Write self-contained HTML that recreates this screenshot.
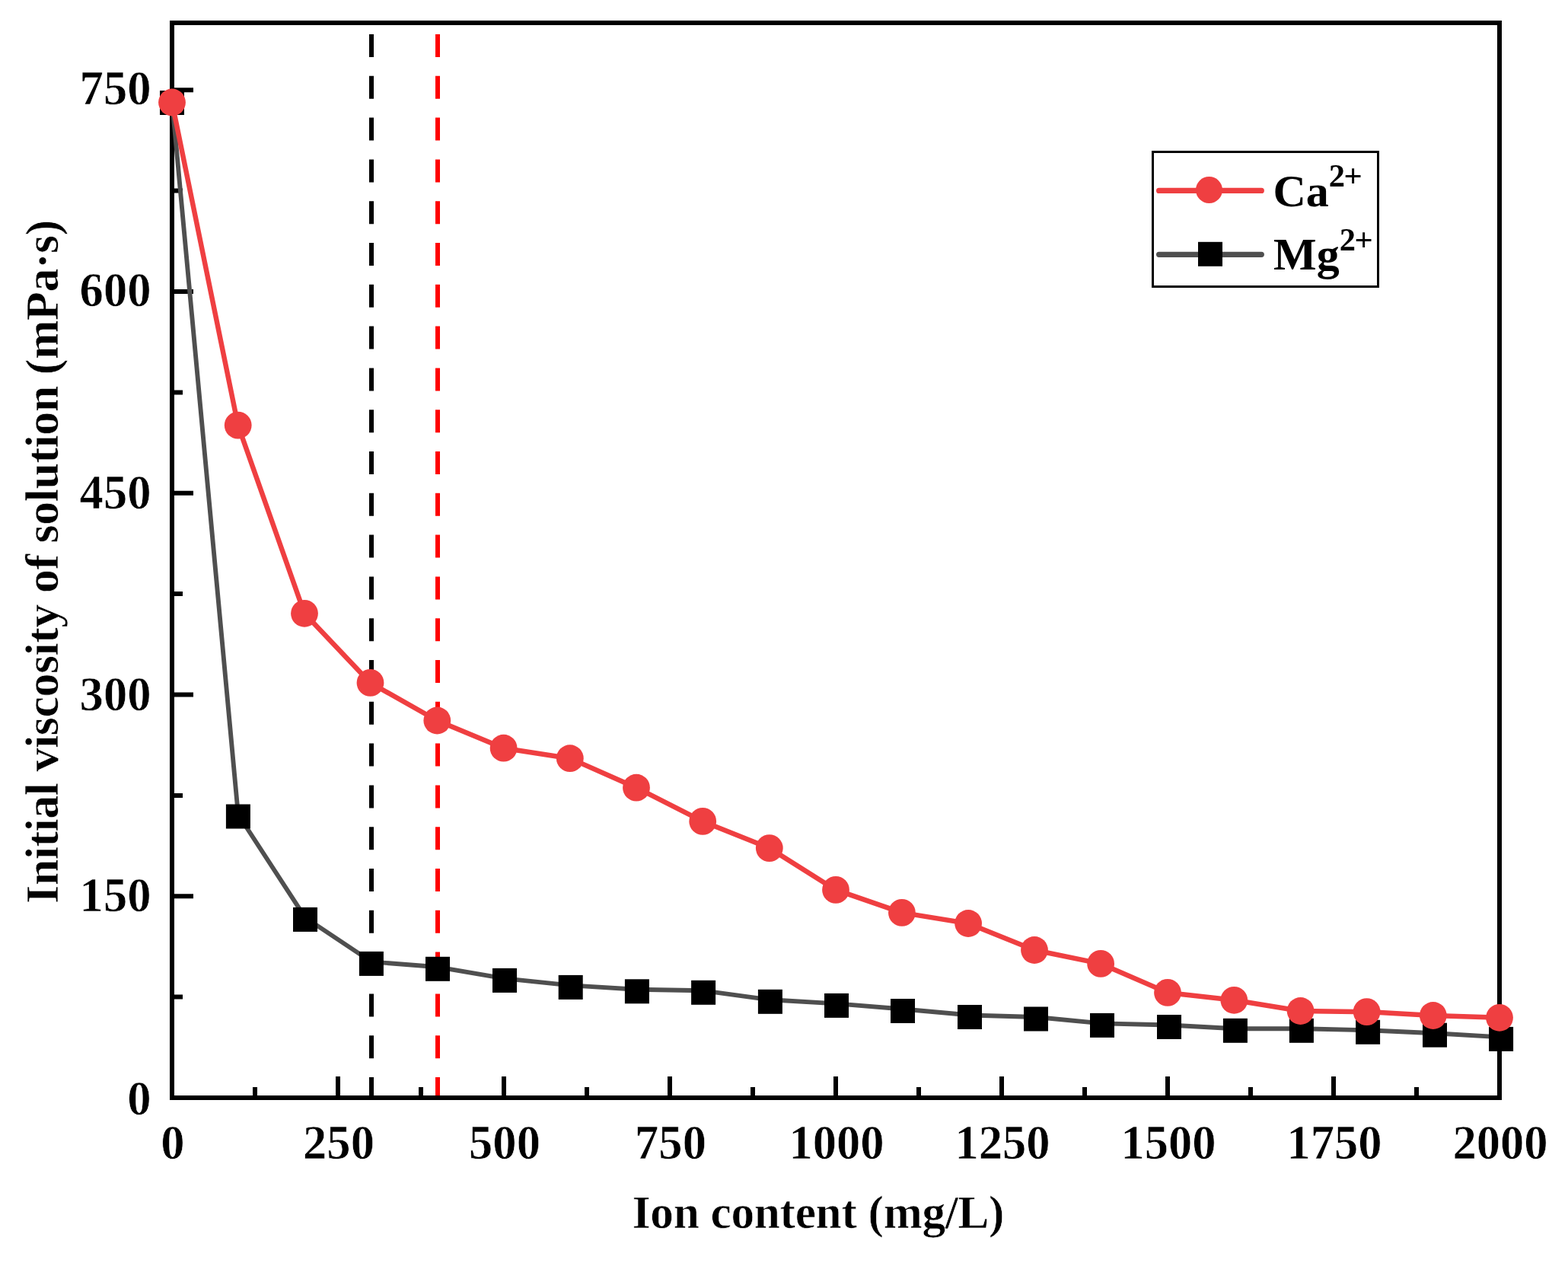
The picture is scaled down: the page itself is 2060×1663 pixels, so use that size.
<!DOCTYPE html><html><head><meta charset="utf-8"><title>Initial viscosity vs ion content</title>
<style>html,body{margin:0;padding:0;background:#fff;}body{width:2060px;height:1663px;overflow:hidden;}svg{display:block;} text{font-family:"Liberation Serif", "Times New Roman", serif;font-weight:bold;fill:#000;stroke:#fff;stroke-width:0.6px;} text.ns{stroke:none;}</style></head><body>
<svg width="2060" height="1663" viewBox="0 0 2060 1663">
<rect x="0" y="0" width="2060" height="1663" fill="#fff"/>
<line x1="488" y1="45" x2="488" y2="1442" stroke="#000" stroke-width="6" stroke-dasharray="30 24.8"/>
<line x1="575" y1="45" x2="575" y2="1442" stroke="#FF0000" stroke-width="6" stroke-dasharray="30 24.8"/>
<path d="M226.0 1442.0V1414.0M335.0 1442.0V1428.0M444.0 1442.0V1414.0M553.0 1442.0V1428.0M662.0 1442.0V1414.0M771.0 1442.0V1428.0M880.0 1442.0V1414.0M989.0 1442.0V1428.0M1098.0 1442.0V1414.0M1207.0 1442.0V1428.0M1316.0 1442.0V1414.0M1425.0 1442.0V1428.0M1534.0 1442.0V1414.0M1643.0 1442.0V1428.0M1752.0 1442.0V1414.0M1861.0 1442.0V1428.0M1970.0 1442.0V1414.0M226.0 1442.0H254.0M226.0 1309.6H240.0M226.0 1177.2H254.0M226.0 1044.9H240.0M226.0 912.5H254.0M226.0 780.1H240.0M226.0 647.8H254.0M226.0 515.4H240.0M226.0 383.0H254.0M226.0 250.6H240.0M226.0 118.2H254.0" stroke="#000" stroke-width="6" fill="none"/>
<rect x="226" y="30" width="1744" height="1412" fill="none" stroke="#000" stroke-width="6"/>
<polyline points="226.0,132.5 312.9,1070.0 401.0,1205.4 487.9,1263.4 575.0,1270.3 663.0,1285.4 749.7,1294.4 836.9,1299.8 924.1,1301.3 1011.9,1313.3 1099.0,1318.4 1186.0,1325.5 1274.0,1333.5 1361.0,1336.0 1448.0,1344.4 1536.0,1346.5 1622.9,1351.3 1709.9,1351.3 1797.1,1353.3 1885.0,1357.2 1972.1,1362.4" fill="none" stroke="#4F4F4F" stroke-width="5.9" stroke-linejoin="round"/>
<g fill="#000"><rect x="210.0" y="119.0" width="32" height="32"/><rect x="296.9" y="1056.5" width="32" height="32"/><rect x="385.0" y="1191.9" width="32" height="32"/><rect x="471.9" y="1249.9" width="32" height="32"/><rect x="559.0" y="1256.8" width="32" height="32"/><rect x="647.0" y="1271.9" width="32" height="32"/><rect x="733.7" y="1280.9" width="32" height="32"/><rect x="820.9" y="1286.3" width="32" height="32"/><rect x="908.1" y="1287.8" width="32" height="32"/><rect x="995.9" y="1299.8" width="32" height="32"/><rect x="1083.0" y="1304.9" width="32" height="32"/><rect x="1170.0" y="1312.0" width="32" height="32"/><rect x="1258.0" y="1320.0" width="32" height="32"/><rect x="1345.0" y="1322.5" width="32" height="32"/><rect x="1432.0" y="1330.9" width="32" height="32"/><rect x="1520.0" y="1333.0" width="32" height="32"/><rect x="1606.9" y="1337.8" width="32" height="32"/><rect x="1693.9" y="1337.8" width="32" height="32"/><rect x="1781.1" y="1339.8" width="32" height="32"/><rect x="1869.0" y="1343.7" width="32" height="32"/><rect x="1956.1" y="1348.9" width="32" height="32"/></g>
<polyline points="226.0,134.5 312.7,558.6 400.0,805.8 486.5,896.9 574.3,946.5 661.6,982.7 748.8,996.2 836.0,1034.7 923.2,1078.9 1010.8,1114.1 1098.0,1168.9 1184.9,1198.9 1272.1,1213.0 1359.0,1248.0 1446.1,1265.9 1534.0,1303.9 1621.3,1313.8 1708.6,1328.0 1795.6,1329.1 1882.8,1334.0 1970.0,1336.8" fill="none" stroke="#EF3F41" stroke-width="6.5" stroke-linejoin="round"/>
<g fill="#EF3F41"><circle cx="226.0" cy="134.5" r="17.9"/><circle cx="312.7" cy="558.6" r="17.9"/><circle cx="400.0" cy="805.8" r="17.9"/><circle cx="486.5" cy="896.9" r="17.9"/><circle cx="574.3" cy="946.5" r="17.9"/><circle cx="661.6" cy="982.7" r="17.9"/><circle cx="748.8" cy="996.2" r="17.9"/><circle cx="836.0" cy="1034.7" r="17.9"/><circle cx="923.2" cy="1078.9" r="17.9"/><circle cx="1010.8" cy="1114.1" r="17.9"/><circle cx="1098.0" cy="1168.9" r="17.9"/><circle cx="1184.9" cy="1198.9" r="17.9"/><circle cx="1272.1" cy="1213.0" r="17.9"/><circle cx="1359.0" cy="1248.0" r="17.9"/><circle cx="1446.1" cy="1265.9" r="17.9"/><circle cx="1534.0" cy="1303.9" r="17.9"/><circle cx="1621.3" cy="1313.8" r="17.9"/><circle cx="1708.6" cy="1328.0" r="17.9"/><circle cx="1795.6" cy="1329.1" r="17.9"/><circle cx="1882.8" cy="1334.0" r="17.9"/><circle cx="1970.0" cy="1336.8" r="17.9"/></g>
<text x="198.5" y="1463.8" font-size="62.6" text-anchor="end">0</text>
<text x="198.5" y="1197.1" font-size="62.6" text-anchor="end">150</text>
<text x="198.5" y="933.4" font-size="62.6" text-anchor="end">300</text>
<text x="198.5" y="667.6" font-size="62.6" text-anchor="end">450</text>
<text x="198.5" y="402.0" font-size="62.6" text-anchor="end">600</text>
<text x="198.5" y="137.2" font-size="62.6" text-anchor="end">750</text>
<text x="227.0" y="1521.5" font-size="62.6" text-anchor="middle">0</text>
<text x="445.0" y="1521.5" font-size="62.6" text-anchor="middle">250</text>
<text x="663.0" y="1521.5" font-size="62.6" text-anchor="middle">500</text>
<text x="881.0" y="1521.5" font-size="62.6" text-anchor="middle">750</text>
<text x="1099.0" y="1521.5" font-size="62.6" text-anchor="middle">1000</text>
<text x="1317.0" y="1521.5" font-size="62.6" text-anchor="middle">1250</text>
<text x="1535.0" y="1521.5" font-size="62.6" text-anchor="middle">1500</text>
<text x="1753.0" y="1521.5" font-size="62.6" text-anchor="middle">1750</text>
<text x="1971.0" y="1521.5" font-size="62.6" text-anchor="middle">2000</text>
<text x="1075" y="1613" font-size="61.3" letter-spacing="-0.3" text-anchor="middle">Ion content (mg/L)</text>
<text transform="translate(76,738) rotate(-90)" x="0" y="0" font-size="62" letter-spacing="-0.5" text-anchor="middle">Initial viscosity of solution (mPa·s)</text>
<rect x="1514.5" y="199.5" width="296" height="177" fill="#fff" stroke="#000" stroke-width="3"/>
<line x1="1522.6" y1="250.4" x2="1657.3" y2="250.4" stroke="#EF3F41" stroke-width="7.2" stroke-linecap="round"/>
<circle cx="1588.5" cy="249.5" r="17.5" fill="#EF3F41"/>
<line x1="1522.6" y1="334.3" x2="1657.3" y2="334.3" stroke="#4F4F4F" stroke-width="7.2" stroke-linecap="round"/>
<rect x="1574" y="317.8" width="32" height="32" fill="#000"/>
<text class="ns" x="1672.5" y="271" font-size="60">Ca<tspan font-size="42.5" letter-spacing="-1.5" dy="-26.5">2+</tspan></text>
<text class="ns" x="1673" y="354" font-size="60">Mg<tspan font-size="42.5" letter-spacing="-1.5" dy="-25">2+</tspan></text>
</svg></body></html>
